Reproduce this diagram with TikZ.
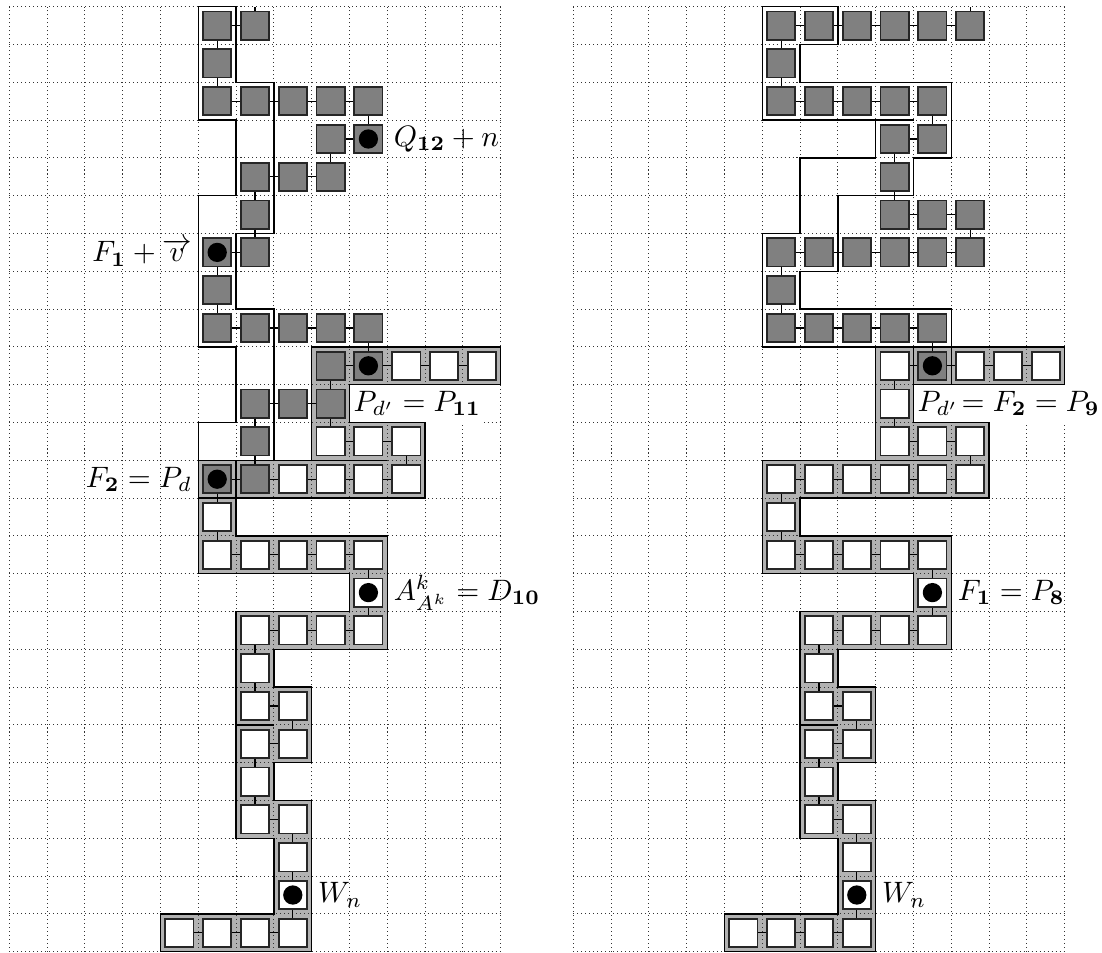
\documentclass[tikz,border=0pt]{standalone}
\usepackage{amsmath}
\usepackage{tikz}
\tikzset{
  gridline/.style={line width=0.35pt,black!80,dash pattern=on 0.35pt off 1pt},
  sqG/.style={rectangle,draw=black!85,line width=0.6pt,fill=gray,minimum size=0.3375cm,inner sep=0pt},
  sqW/.style={sqG,fill=white},
  link/.style={line width=0.4pt},
  rim/.style={line width=0.5pt},
  tag/.style={inner sep=2pt},
  tagbox/.style={tag,anchor=west,fill=white,minimum height=0.45cm,inner xsep=1.2pt},
}
\begin{document}
\begin{tikzpicture}[x=0.45cm,y=0.45cm]
\useasboundingbox (-0.246,-0.008) rectangle (28.907,25.177);
% left picture
\fill[gray!60] (8,16) -- (13,16) -- (13,15) -- (9,15) -- (9,14) -- (11,14) -- (11,12) -- (6,12) -- (6,11) -- (10,11) -- (10,8) -- (7,8) -- (7,7) -- (8,7) -- (8,5) -- (7,5) -- (7,4) -- (8,4) -- (8,0) -- (4,0) -- (4,1) -- (7,1) -- (7,3) -- (6,3) -- (6,9) -- (9,9) -- (9,10) -- (5,10) -- (5,13) -- (8,13) -- cycle;
\foreach \i in {0,...,13} \draw[gridline] (\i,0) -- (\i,25);
\foreach \j in {0,...,25} \draw[gridline] (0,\j) -- (13,\j);
\node[tag,anchor=west] (tagQ) at (10,21.5) {$Q_{\mathbf{12}}+n$};
\node[tag,anchor=east] (tagFv) at (5,18.5) {$F_{\mathbf{1}}+\overrightarrow{v}$};
\node[tagbox] (tagPL) at (9,14.5) {$P_{d'}=P_{\mathbf{11}}$};
\node[tag,anchor=east] (tagFP) at (5,12.5) {$F_{\mathbf{2}}=P_d$};
\node[tag,anchor=west] (tagAD) at (10,9.5) {$A^k_{A^k}=D_{\mathbf{10}}$};
\node[tag,anchor=west] (tagWL) at (8,1.5) {$W_n$};
\draw[rim] (8,16) -- (13,16) -- (13,15) -- (9,15) -- (9,14) -- (11,14) -- (11,12) -- (6,12) -- (6,11) -- (10,11) -- (10,8) -- (7,8) -- (7,7) -- (8,7) -- (8,5) -- (7,5) -- (7,4) -- (8,4) -- (8,0) -- (4,0) -- (4,1) -- (7,1) -- (7,3) -- (6,3) -- (6,9) -- (9,9) -- (9,10) -- (5,10) -- (5,13) -- (8,13) -- cycle;
\draw[rim] (8,13) -- (10,13);
\draw[rim] (6,6) -- (7,6);
\draw[rim] (5,25) -- (6,25) -- (6,23) -- (7,23) -- (7,19) -- (6,19) -- (6,17) -- (7,17) -- (7,13) -- (6,13) -- (6,12) -- (5,12) -- (5,14) -- (6,14) -- (6,16) -- (5,16) -- (5,20) -- (6,20) -- (6,22) -- (5,22) -- cycle;
\node[sqG] (L5-0) at (5.5,24.5) {};
\node[sqG] (L6-0) at (6.5,24.5) {};
\node[sqG] (L5-1) at (5.5,23.5) {};
\node[sqG] (L5-2) at (5.5,22.5) {};
\node[sqG] (L6-2) at (6.5,22.5) {};
\node[sqG] (L7-2) at (7.5,22.5) {};
\node[sqG] (L8-2) at (8.5,22.5) {};
\node[sqG] (L9-2) at (9.5,22.5) {};
\node[sqG] (L8-3) at (8.5,21.5) {};
\node[sqG] (L9-3) at (9.5,21.5) {};
\node[sqG] (L6-4) at (6.5,20.5) {};
\node[sqG] (L7-4) at (7.5,20.5) {};
\node[sqG] (L8-4) at (8.5,20.5) {};
\node[sqG] (L6-5) at (6.5,19.5) {};
\node[sqG] (L5-6) at (5.5,18.5) {};
\node[sqG] (L6-6) at (6.5,18.5) {};
\node[sqG] (L5-7) at (5.5,17.5) {};
\node[sqG] (L5-8) at (5.5,16.5) {};
\node[sqG] (L6-8) at (6.5,16.5) {};
\node[sqG] (L7-8) at (7.5,16.5) {};
\node[sqG] (L8-8) at (8.5,16.5) {};
\node[sqG] (L9-8) at (9.5,16.5) {};
\node[sqG] (L8-9) at (8.5,15.5) {};
\node[sqG] (L9-9) at (9.5,15.5) {};
\node[sqG] (L6-10) at (6.5,14.5) {};
\node[sqG] (L7-10) at (7.5,14.5) {};
\node[sqG] (L8-10) at (8.5,14.5) {};
\node[sqG] (L6-11) at (6.5,13.5) {};
\node[sqG] (L5-12) at (5.5,12.5) {};
\node[sqG] (L6-12) at (6.5,12.5) {};
\node[sqW] (L10-9) at (10.5,15.5) {};
\node[sqW] (L11-9) at (11.5,15.5) {};
\node[sqW] (L12-9) at (12.5,15.5) {};
\node[sqW] (L8-11) at (8.5,13.5) {};
\node[sqW] (L9-11) at (9.5,13.5) {};
\node[sqW] (L10-11) at (10.5,13.5) {};
\node[sqW] (L7-12) at (7.5,12.5) {};
\node[sqW] (L8-12) at (8.5,12.5) {};
\node[sqW] (L9-12) at (9.5,12.5) {};
\node[sqW] (L10-12) at (10.5,12.5) {};
\node[sqW] (L5-13) at (5.5,11.5) {};
\node[sqW] (L5-14) at (5.5,10.5) {};
\node[sqW] (L6-14) at (6.5,10.5) {};
\node[sqW] (L7-14) at (7.5,10.5) {};
\node[sqW] (L8-14) at (8.5,10.5) {};
\node[sqW] (L9-14) at (9.5,10.5) {};
\node[sqW] (L9-15) at (9.5,9.5) {};
\node[sqW] (L6-16) at (6.5,8.5) {};
\node[sqW] (L7-16) at (7.5,8.5) {};
\node[sqW] (L8-16) at (8.5,8.5) {};
\node[sqW] (L9-16) at (9.5,8.5) {};
\node[sqW] (L6-17) at (6.5,7.5) {};
\node[sqW] (L6-18) at (6.5,6.5) {};
\node[sqW] (L7-18) at (7.5,6.5) {};
\node[sqW] (L6-19) at (6.5,5.5) {};
\node[sqW] (L7-19) at (7.5,5.5) {};
\node[sqW] (L6-20) at (6.5,4.5) {};
\node[sqW] (L6-21) at (6.5,3.5) {};
\node[sqW] (L7-21) at (7.5,3.5) {};
\node[sqW] (L7-22) at (7.5,2.5) {};
\node[sqW] (L7-23) at (7.5,1.5) {};
\node[sqW] (L4-24) at (4.5,0.5) {};
\node[sqW] (L5-24) at (5.5,0.5) {};
\node[sqW] (L6-24) at (6.5,0.5) {};
\node[sqW] (L7-24) at (7.5,0.5) {};
\coordinate (Ltop) at (6.5,25);
\draw[link] (L6-0) -- (Ltop);
\draw[link] (L6-0) -- (L5-0) -- (L5-1) -- (L5-2) -- (L6-2) -- (L7-2) -- (L8-2) -- (L9-2) -- (L9-3) -- (L8-3) -- (L8-4) -- (L7-4) -- (L6-4) -- (L6-5) -- (L6-6) -- (L5-6) -- (L5-7) -- (L5-8) -- (L6-8) -- (L7-8) -- (L8-8) -- (L9-8) -- (L9-9) -- (L8-9) -- (L8-10) -- (L7-10) -- (L6-10) -- (L6-11) -- (L6-12) -- (L5-12) -- (L5-13) -- (L5-14) -- (L6-14) -- (L7-14) -- (L8-14) -- (L9-14) -- (L9-15) -- (L9-16) -- (L8-16) -- (L7-16) -- (L6-16) -- (L6-17) -- (L6-18) -- (L7-18) -- (L7-19) -- (L6-19) -- (L6-20) -- (L6-21) -- (L7-21) -- (L7-22) -- (L7-23) -- (L7-24) -- (L6-24) -- (L5-24) -- (L4-24);
\draw[link] (L9-9) -- (L10-9) -- (L11-9) -- (L12-9);
\draw[link] (L8-10) -- (L8-11) -- (L9-11) -- (L10-11) -- (L10-12) -- (L9-12) -- (L8-12) -- (L7-12) -- (L6-12);
\fill (L9-3) circle (0.255);
\fill (L5-6) circle (0.255);
\fill (L9-9) circle (0.255);
\fill (L5-12) circle (0.255);
\fill (L9-15) circle (0.255);
\fill (L7-23) circle (0.255);
% right picture
\begin{scope}[shift={(14.92,0)}]
\fill[gray!60] (8,16) -- (13,16) -- (13,15) -- (9,15) -- (9,14) -- (11,14) -- (11,12) -- (6,12) -- (6,11) -- (10,11) -- (10,8) -- (7,8) -- (7,7) -- (8,7) -- (8,5) -- (7,5) -- (7,4) -- (8,4) -- (8,0) -- (4,0) -- (4,1) -- (7,1) -- (7,3) -- (6,3) -- (6,9) -- (9,9) -- (9,10) -- (5,10) -- (5,13) -- (8,13) -- cycle;
\foreach \i in {0,...,13} \draw[gridline] (\i,0) -- (\i,25);
\foreach \j in {0,...,25} \draw[gridline] (0,\j) -- (13,\j);
\node[tagbox] (tagPR) at (9,14.5) {$P_{d'}\!=F_{\mathbf{2}}=P_{\mathbf{9}}$};
\node[tag,anchor=west] (tagFR) at (10,9.5) {$F_{\mathbf{1}}=P_{\mathbf{8}}$};
\node[tag,anchor=west] (tagWR) at (8,1.5) {$W_n$};
\draw[rim] (8,16) -- (13,16) -- (13,15) -- (9,15) -- (9,14) -- (11,14) -- (11,12) -- (6,12) -- (6,11) -- (10,11) -- (10,8) -- (7,8) -- (7,7) -- (8,7) -- (8,5) -- (7,5) -- (7,4) -- (8,4) -- (8,0) -- (4,0) -- (4,1) -- (7,1) -- (7,3) -- (6,3) -- (6,9) -- (9,9) -- (9,10) -- (5,10) -- (5,13) -- (8,13) -- cycle;
\draw[rim] (8,13) -- (10,13);
\draw[rim] (6,6) -- (7,6);
\draw[rim] (5,25) -- (7,25) -- (7,24) -- (6,24) -- (6,23) -- (10,23) -- (10,21) -- (9,21) -- (9,20) -- (7,20) -- (7,18) -- (6,18) -- (6,17) -- (10,17) -- (10,15) -- (9,15) -- (9,16) -- (5,16) -- (5,19) -- (6,19) -- (6,21) -- (8,21) -- (8,22) -- (5,22) -- cycle;
\draw[rim] (8,22) -- (9,22);
\node[sqG] (R5-0) at (5.5,24.5) {};
\node[sqG] (R6-0) at (6.5,24.5) {};
\node[sqG] (R7-0) at (7.5,24.5) {};
\node[sqG] (R8-0) at (8.5,24.5) {};
\node[sqG] (R9-0) at (9.5,24.5) {};
\node[sqG] (R10-0) at (10.5,24.5) {};
\node[sqG] (R5-1) at (5.5,23.5) {};
\node[sqG] (R5-2) at (5.5,22.5) {};
\node[sqG] (R6-2) at (6.5,22.5) {};
\node[sqG] (R7-2) at (7.5,22.5) {};
\node[sqG] (R8-2) at (8.5,22.5) {};
\node[sqG] (R9-2) at (9.5,22.5) {};
\node[sqG] (R8-3) at (8.5,21.5) {};
\node[sqG] (R9-3) at (9.5,21.5) {};
\node[sqG] (R8-4) at (8.5,20.5) {};
\node[sqG] (R8-5) at (8.5,19.5) {};
\node[sqG] (R9-5) at (9.5,19.5) {};
\node[sqG] (R10-5) at (10.5,19.5) {};
\node[sqG] (R5-6) at (5.5,18.5) {};
\node[sqG] (R6-6) at (6.5,18.5) {};
\node[sqG] (R7-6) at (7.5,18.5) {};
\node[sqG] (R8-6) at (8.5,18.5) {};
\node[sqG] (R9-6) at (9.5,18.5) {};
\node[sqG] (R10-6) at (10.5,18.5) {};
\node[sqG] (R5-7) at (5.5,17.5) {};
\node[sqG] (R5-8) at (5.5,16.5) {};
\node[sqG] (R6-8) at (6.5,16.5) {};
\node[sqG] (R7-8) at (7.5,16.5) {};
\node[sqG] (R8-8) at (8.5,16.5) {};
\node[sqG] (R9-8) at (9.5,16.5) {};
\node[sqG] (R9-9) at (9.5,15.5) {};
\node[sqW] (R8-9) at (8.5,15.5) {};
\node[sqW] (R10-9) at (10.5,15.5) {};
\node[sqW] (R11-9) at (11.5,15.5) {};
\node[sqW] (R12-9) at (12.5,15.5) {};
\node[sqW] (R8-10) at (8.5,14.5) {};
\node[sqW] (R8-11) at (8.5,13.5) {};
\node[sqW] (R9-11) at (9.5,13.5) {};
\node[sqW] (R10-11) at (10.5,13.5) {};
\node[sqW] (R5-12) at (5.5,12.5) {};
\node[sqW] (R6-12) at (6.5,12.5) {};
\node[sqW] (R7-12) at (7.5,12.5) {};
\node[sqW] (R8-12) at (8.5,12.5) {};
\node[sqW] (R9-12) at (9.5,12.5) {};
\node[sqW] (R10-12) at (10.5,12.5) {};
\node[sqW] (R5-13) at (5.5,11.5) {};
\node[sqW] (R5-14) at (5.5,10.5) {};
\node[sqW] (R6-14) at (6.5,10.5) {};
\node[sqW] (R7-14) at (7.5,10.5) {};
\node[sqW] (R8-14) at (8.5,10.5) {};
\node[sqW] (R9-14) at (9.5,10.5) {};
\node[sqW] (R9-15) at (9.5,9.5) {};
\node[sqW] (R6-16) at (6.5,8.5) {};
\node[sqW] (R7-16) at (7.5,8.5) {};
\node[sqW] (R8-16) at (8.5,8.5) {};
\node[sqW] (R9-16) at (9.5,8.5) {};
\node[sqW] (R6-17) at (6.5,7.5) {};
\node[sqW] (R6-18) at (6.5,6.5) {};
\node[sqW] (R7-18) at (7.5,6.5) {};
\node[sqW] (R6-19) at (6.5,5.5) {};
\node[sqW] (R7-19) at (7.5,5.5) {};
\node[sqW] (R6-20) at (6.5,4.5) {};
\node[sqW] (R6-21) at (6.5,3.5) {};
\node[sqW] (R7-21) at (7.5,3.5) {};
\node[sqW] (R7-22) at (7.5,2.5) {};
\node[sqW] (R7-23) at (7.5,1.5) {};
\node[sqW] (R4-24) at (4.5,0.5) {};
\node[sqW] (R5-24) at (5.5,0.5) {};
\node[sqW] (R6-24) at (6.5,0.5) {};
\node[sqW] (R7-24) at (7.5,0.5) {};
\coordinate (Rtop) at (10.5,25);
\draw[link] (R10-0) -- (Rtop);
\draw[link] (R10-0) -- (R9-0) -- (R8-0) -- (R7-0) -- (R6-0) -- (R5-0) -- (R5-1) -- (R5-2) -- (R6-2) -- (R7-2) -- (R8-2) -- (R9-2) -- (R9-3) -- (R8-3) -- (R8-4) -- (R8-5) -- (R9-5) -- (R10-5) -- (R10-6) -- (R9-6) -- (R8-6) -- (R7-6) -- (R6-6) -- (R5-6) -- (R5-7) -- (R5-8) -- (R6-8) -- (R7-8) -- (R8-8) -- (R9-8) -- (R9-9) -- (R8-9) -- (R8-10) -- (R8-11) -- (R9-11) -- (R10-11) -- (R10-12) -- (R9-12) -- (R8-12) -- (R7-12) -- (R6-12) -- (R5-12) -- (R5-13) -- (R5-14) -- (R6-14) -- (R7-14) -- (R8-14) -- (R9-14) -- (R9-15) -- (R9-16) -- (R8-16) -- (R7-16) -- (R6-16) -- (R6-17) -- (R6-18) -- (R7-18) -- (R7-19) -- (R6-19) -- (R6-20) -- (R6-21) -- (R7-21) -- (R7-22) -- (R7-23) -- (R7-24) -- (R6-24) -- (R5-24) -- (R4-24);
\draw[link] (R9-9) -- (R10-9) -- (R11-9) -- (R12-9);
\fill (R9-9) circle (0.255);
\fill (R9-15) circle (0.255);
\fill (R7-23) circle (0.255);
\end{scope}
\end{tikzpicture}
\end{document}
